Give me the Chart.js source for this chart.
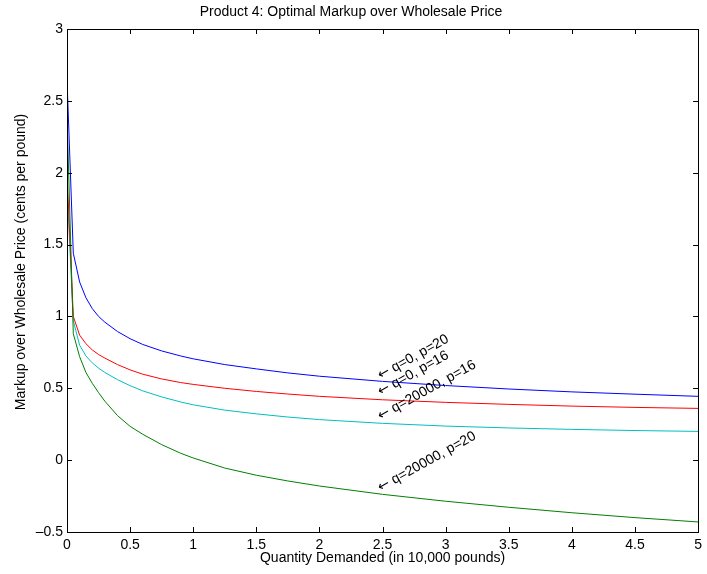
<!DOCTYPE html>
<html>
<head>
<meta charset="utf-8">
<script src="https://cdn.jsdelivr.net/npm/chart.js@4.4.0/dist/chart.umd.min.js"></script>
<style>
  body { margin: 0; background: #fff; }
</style>
</head>
<body>
<canvas id="markup-chart" width="707" height="574"></canvas>
<script>
/*---------- Data ----------------------------------*/
const quantity = [0, 0.05, 0.1, 0.15, 0.2, 0.25, 0.3, 0.4, 0.5, 0.6, 0.75, 0.9, 1, 1.25, 1.5, 1.75, 2, 2.5, 3, 3.5, 4, 4.5, 5];
const q0p20 = [2.65, 1.44, 1.24, 1.13, 1.055, 1.0, 0.96, 0.895, 0.845, 0.805, 0.76, 0.725, 0.705, 0.665, 0.635, 0.607, 0.584, 0.548, 0.519, 0.495, 0.475, 0.459, 0.444];
const q0p16 = [2.0, 1.0, 0.87, 0.81, 0.767, 0.735, 0.71, 0.665, 0.628, 0.598, 0.565, 0.54, 0.527, 0.5, 0.478, 0.46, 0.444, 0.42, 0.402, 0.388, 0.376, 0.367, 0.36];
const q20000p16 = [1.9, 0.97, 0.8, 0.725, 0.677, 0.64, 0.61, 0.56, 0.518, 0.482, 0.44, 0.405, 0.385, 0.348, 0.322, 0.3, 0.282, 0.256, 0.237, 0.224, 0.214, 0.206, 0.2];
const q20000p20 = [2.4, 0.88, 0.72, 0.61, 0.535, 0.47, 0.41, 0.31, 0.235, 0.18, 0.108, 0.048, 0.015, -0.055, -0.105, -0.145, -0.18, -0.238, -0.286, -0.328, -0.366, -0.4, -0.43];

const xTicks = [0, 0.5, 1, 1.5, 2, 2.5, 3, 3.5, 4, 4.5, 5];
const yTicks = [-0.5, 0, 0.5, 1, 1.5, 2, 2.5, 3];

const curveNames = ["q=0, p=20", "q=0, p=16", "q=20000, p=16", "q=20000, p=20"];
const nameX = 2.47;
const nameY = [0.583, 0.47, 0.30, -0.197];

const FONT = "'Liberation Sans', Arial, Helvetica, sans-serif";

function toPoints(ys) {
  return quantity.map((q, i) => ({ x: q, y: ys[i] }));
}

function curve(ys, color) {
  return {
    data: toPoints(ys),
    borderColor: color,
    borderWidth: 1,
    pointRadius: 0,
    fill: false,
    tension: 0,
  };
}

// box round the axes with inward ticks on all four sides
const boxTicks = {
  id: "boxTicks",
  afterDraw(chart) {
    const { ctx, chartArea: a, scales } = chart;
    ctx.save();
    ctx.strokeStyle = "#000";
    ctx.lineWidth = 1;
    ctx.strokeRect(Math.round(a.left) + 0.5, Math.round(a.top) + 0.5,
      Math.round(a.right - a.left), Math.round(a.bottom - a.top));
    ctx.beginPath();
    xTicks.forEach((v) => {
      const px = Math.round(scales.x.getPixelForValue(v)) + 0.5;
      ctx.moveTo(px, a.bottom); ctx.lineTo(px, a.bottom - 5);
      ctx.moveTo(px, a.top); ctx.lineTo(px, a.top + 5);
    });
    yTicks.forEach((v) => {
      const py = Math.round(scales.y.getPixelForValue(v)) + 0.5;
      ctx.moveTo(a.left, py); ctx.lineTo(a.left + 5, py);
      ctx.moveTo(a.right, py); ctx.lineTo(a.right - 5, py);
    });
    ctx.stroke();

    // y axis title, sits a bit above the middle like the original
    ctx.fillStyle = "#000";
    ctx.font = "14px " + FONT;
    ctx.textAlign = "center";
    ctx.textBaseline = "middle";
    ctx.translate(21, 262);
    ctx.rotate(-Math.PI / 2);
    ctx.fillText("Markup over Wholesale Price (cents per pound)", 0, 0);
    ctx.restore();
  },
};

// rotated curve names, arrow drawn in DejaVu so it is full size
const curveTags = {
  id: "curveTags",
  afterDatasetsDraw(chart) {
    const { ctx, scales } = chart;
    ctx.save();
    ctx.fillStyle = "#000";
    ctx.textAlign = "left";
    ctx.textBaseline = "middle";
    curveNames.forEach((name, i) => {
      ctx.save();
      ctx.translate(scales.x.getPixelForValue(nameX), scales.y.getPixelForValue(nameY[i]));
      ctx.rotate(-29 * Math.PI / 180);
      ctx.font = "14px 'DejaVu Sans'";
      ctx.fillText("\u2190", 0, 0);
      const w = ctx.measureText("\u2190").width;
      ctx.font = "14px " + FONT;
      ctx.fillText(" " + name, w, 0);
      ctx.restore();
    });
    ctx.restore();
  },
};

const markupChart = new Chart(document.getElementById("markup-chart"), {
  type: "line",
  data: {
    datasets: [
      curve(q0p20, "#0000ff"),
      curve(q20000p20, "#008000"),
      curve(q0p16, "#ff0000"),
      curve(q20000p16, "#00bfbf"),
    ],
  },
  options: {
    responsive: false,
    animation: false,
    layout: { padding: { left: 0, right: 5, top: 0, bottom: 0 } },
    plugins: {
      legend: { display: false },
      tooltip: { enabled: false },
      title: {
        display: true,
        text: "Product 4: Optimal Markup over Wholesale Price",
        color: "#000",
        font: { family: FONT, size: 14, weight: "normal" },
        padding: { top: 4, bottom: 8.2 },
      },
    },
    scales: {
      x: {
        type: "linear",
        min: 0,
        max: 5,
        grid: { display: false, drawTicks: false },
        border: { display: false },
        afterBuildTicks: (s) => { s.ticks = xTicks.map((v) => ({ value: v })); },
        afterFit: (s) => { s.height = 42; },
        ticks: {
          color: "#000",
          font: { family: FONT, size: 14 },
          padding: 5,
          maxRotation: 0,
          callback: (v) => String(v),
        },
        title: {
          display: true,
          text: "Quantity Demanded (in 10,000 pounds)",
          color: "#000",
          font: { family: FONT, size: 14 },
          padding: { top: 0, bottom: 7 },
        },
      },
      y: {
        type: "linear",
        min: -0.5,
        max: 3,
        grid: { display: false, drawTicks: false },
        border: { display: false },
        afterBuildTicks: (s) => { s.ticks = yTicks.map((v) => ({ value: v })); },
        afterFit: (s) => { s.width = 67; },
        ticks: {
          color: "#000",
          font: { family: FONT, size: 14 },
          padding: 4,
          callback: (v) => String(v).replace("-", "\u2013"),
        },
      },
    },
  },
  plugins: [boxTicks, curveTags],
});
</script>
</body>
</html>
